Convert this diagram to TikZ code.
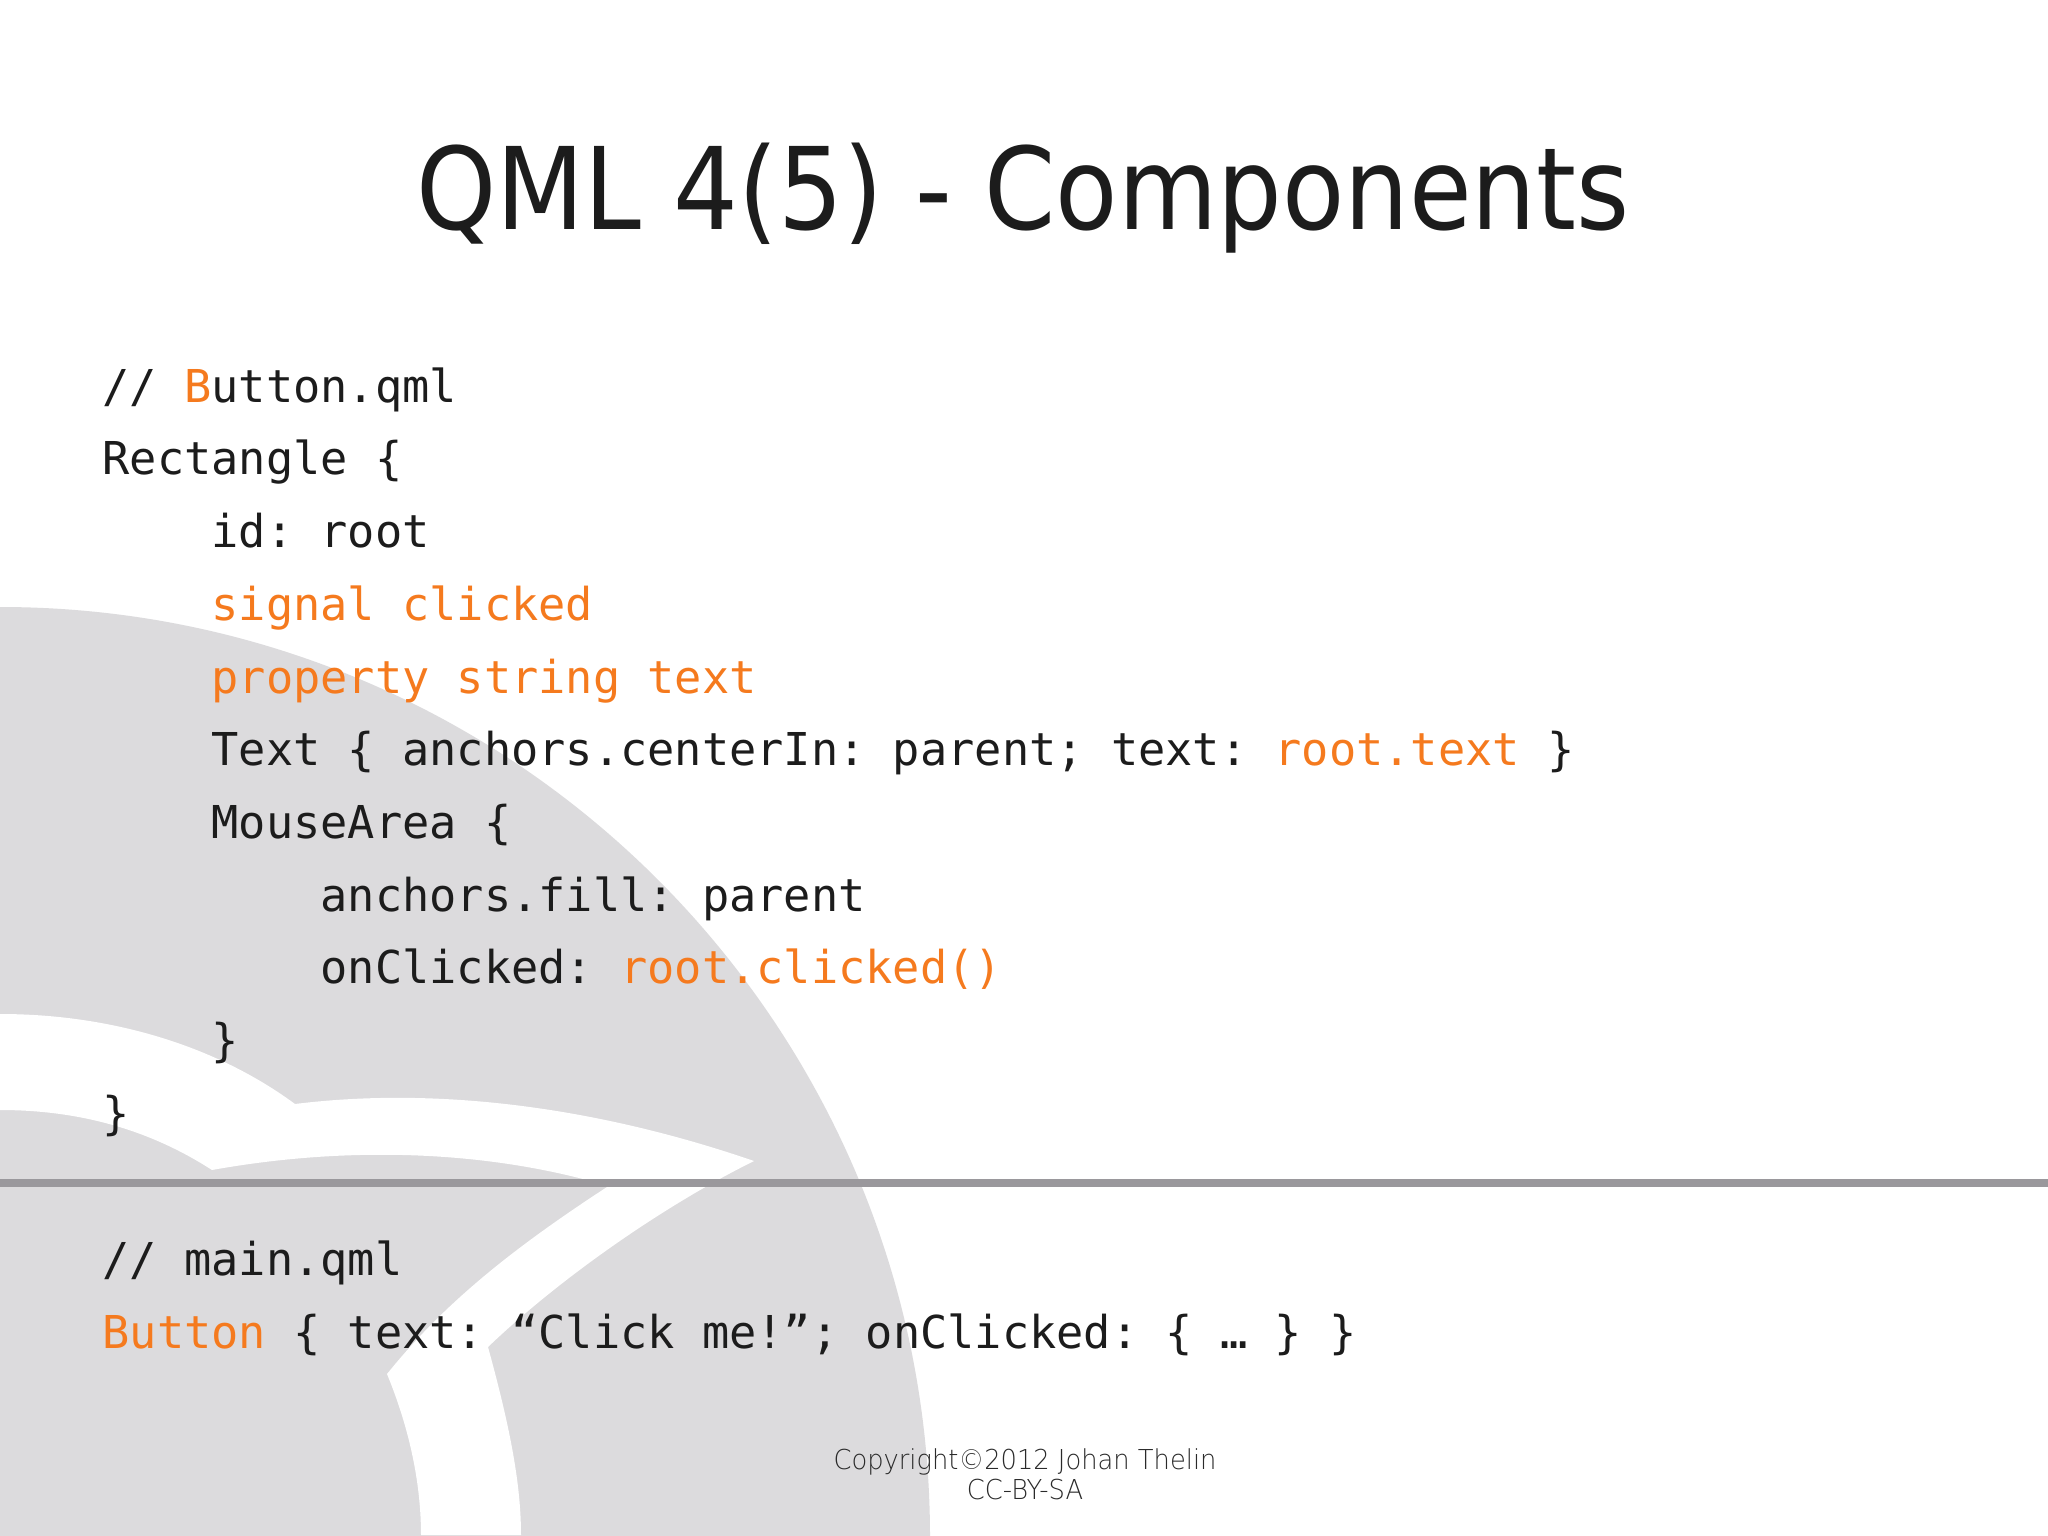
\documentclass[tikz,border=0pt]{standalone}
\usepackage{fontspec}
\setmainfont{DejaVu Sans}
\newfontfamily\titlefont[FakeStretch=0.894]{DejaVu Sans}
\newfontfamily\codefont{DejaVu Sans Mono}
\newfontfamily\footfont[FakeStretch=0.94]{DejaVu Sans ExtraLight}
\definecolor{inkc}{HTML}{1C1C1C}
\definecolor{orangec}{HTML}{F57A1E}
\definecolor{grayc}{HTML}{DCDBDD}
\definecolor{rulec}{HTML}{9A989C}
\definecolor{footc}{HTML}{2A2A2A}
\newcommand{\hl}[1]{\textcolor{orangec}{#1}}
\tikzset{
  codeline/.style={anchor=base west,inner sep=0pt,outer sep=0pt,text=inkc,font=\frenchspacing\codefont\fontsize{22.64pt}{26pt}\selectfont},
  footline/.style={anchor=base,inner sep=0pt,outer sep=0pt,text=footc,font=\footfont\fontsize{13.7pt}{16pt}\selectfont}
}
\begin{document}
\begin{tikzpicture}[x=0.5pt,y=-0.5pt]
\useasboundingbox (0,0) rectangle (2048,1535);
\fill[white] (0,0) rectangle (2048,1535);
% backdrop
\fill[grayc] (0,607) arc[start angle=90,end angle=0,radius=465pt] -- (0,1537) -- cycle;
\fill[white] (0,1014)
  .. controls (110,1014) and (215,1045) .. (295,1104)
  .. controls (440,1086) and (600,1108) .. (754,1161)
  .. controls (665,1205) and (560,1278) .. (488,1347)
  .. controls (508,1420) and (521,1480) .. (521,1535)
  -- (421,1535)
  .. controls (421,1480) and (408,1425) .. (387,1374)
  .. controls (445,1302) and (515,1247) .. (607,1187)
  -- (583,1179)
  .. controls (470,1150) and (340,1147) .. (212,1170)
  .. controls (150,1130) and (80,1110) .. (0,1110)
  -- cycle;
\draw[rulec,line width=3.8pt] (0,1183) -- (2048,1183);
% title
\node[anchor=base,inner sep=0pt,text=inkc,font=\titlefont\fontsize{57pt}{66pt}\selectfont] (title) at (1023,230) {QML 4(5) - Components};
% code
\node[codeline] (l1) at (102.5,402) {// \hl{B}utton.qml};
\node[codeline] (l2) at (102.5,474.7) {Rectangle \{};
\node[codeline] (l3) at (211.5,547) {id: root};
\node[codeline] (l4) at (211.5,620) {\hl{signal clicked}};
\node[codeline] (l5) at (211.5,693) {\hl{property string text}};
\node[codeline] (l6) at (211.5,765) {Text \{ anchors.centerIn: parent; text: \hl{root.text} \}};
\node[codeline] (l7) at (211.5,838) {MouseArea \{};
\node[codeline] (l8) at (320.5,911) {anchors.fill: parent};
\node[codeline] (l9) at (320.5,983) {onClicked: \hl{root.clicked()}};
\node[codeline] (l10) at (211.5,1056) {\}};
\node[codeline] (l11) at (102.5,1129) {\}};
\node[codeline] (m1) at (102.5,1275) {// main.qml};
\node[codeline] (m2) at (102.5,1348) {\hl{Button} \{ text: “Click me!”; onClicked: \{ … \} \}};
% footer
\node[footline] (f1) at (1025,1469) {Copyright©2012 Johan Thelin};
\node[footline] (f2) at (1025,1499) {CC-BY-SA};
\end{tikzpicture}
\end{document}
